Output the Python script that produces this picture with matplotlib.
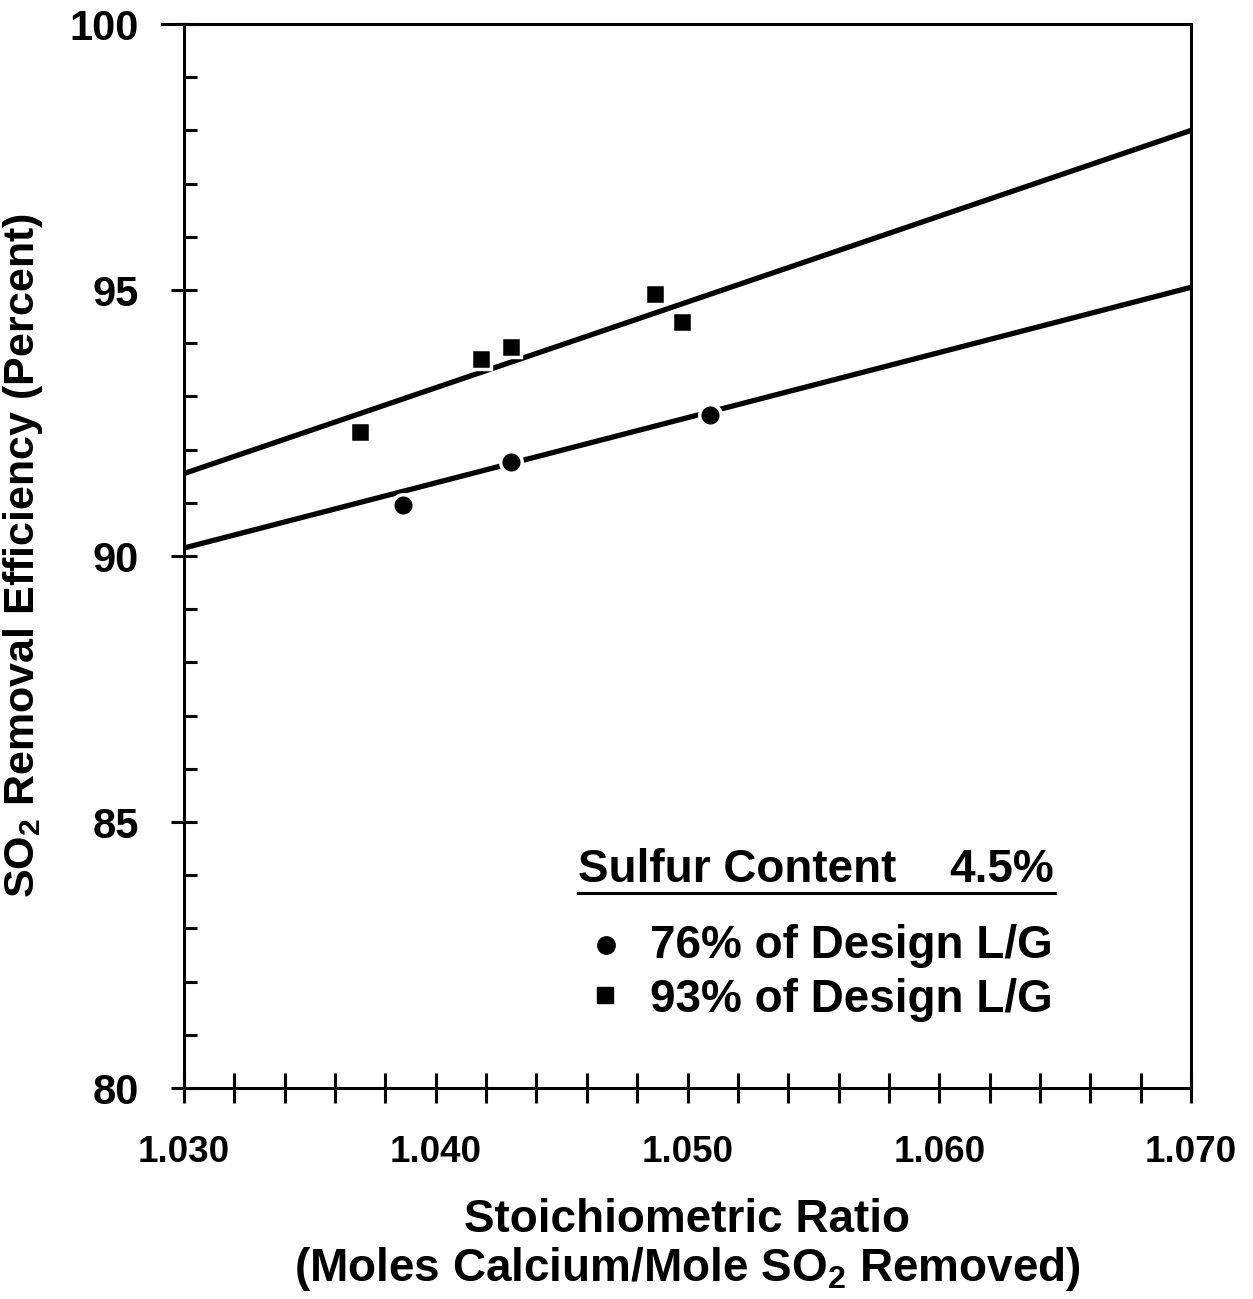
import numpy as np
import matplotlib
matplotlib.use('Agg')
import matplotlib.pyplot as plt
from matplotlib.ticker import MultipleLocator, FormatStrFormatter

plt.rcParams['font.family'] = ['Liberation Sans', 'DejaVu Sans']
plt.rcParams['font.weight'] = 'bold'
plt.rcParams['mathtext.default'] = 'regular'

# measured points: stoichiometric ratio vs SO2 removal efficiency
ratio_76 = [1.0387, 1.0430, 1.0509]
eff_76 = [90.95, 91.77, 92.65]

ratio_93 = [1.0370, 1.0418, 1.0430, 1.0487, 1.0498]
eff_93 = [92.34, 93.70, 93.92, 94.92, 94.39]

# fitted lines, end points at the axis limits
fit_x = [1.030, 1.070]
fit_76 = [90.15, 95.05]
fit_93 = [91.55, 98.00]

legend_title = 'Sulfur Content'
legend_value = '4.5%'
label_76 = '76% of Design L/G'
label_93 = '93% of Design L/G'

W, H = 1253, 1299
fig = plt.figure(figsize=(W / 100, H / 100), dpi=100)
ax = fig.add_axes([184 / W, 1 - 1088 / H, (1191 - 184) / W, (1088 - 24) / H])

ax.plot(fit_x, fit_93, color='black', lw=3.8, solid_capstyle='butt', zorder=2)
ax.plot(fit_x, fit_76, color='black', lw=3.8, solid_capstyle='butt', zorder=2)
ax.plot(ratio_93, eff_93, ls='none', marker='s', ms=14.5, mfc='black',
        mec='white', mew=2.5, zorder=3)
ax.plot(ratio_76, eff_76, ls='none', marker='o', ms=15.5, mfc='black',
        mec='white', mew=2.5, zorder=3)

ax.set_xlim(1.030, 1.070)
ax.set_ylim(80, 100)

for s in ax.spines.values():
    s.set_linewidth(2.2)

ax.xaxis.set_major_locator(MultipleLocator(0.010))
ax.xaxis.set_minor_locator(MultipleLocator(0.002))
ax.xaxis.set_major_formatter(FormatStrFormatter('%.3f'))
ax.yaxis.set_major_locator(MultipleLocator(5))
ax.yaxis.set_minor_locator(MultipleLocator(1))

ax.tick_params(axis='x', which='both', direction='inout', length=21, width=2.2,
               top=False)
ax.tick_params(axis='x', which='major', pad=23, labelsize=26.5)
ax.tick_params(axis='y', which='major', direction='inout', length=19, width=2.2,
               pad=23, labelsize=30, right=False)
ax.tick_params(axis='y', which='minor', direction='in', length=9.5, width=2.2,
               right=False)
for lab in ax.get_xticklabels() + ax.get_yticklabels():
    lab.set_fontweight('bold')

# top border runs a little past the left axis
ax.plot([-0.022, 0], [1, 1], transform=ax.transAxes, color='black', lw=2.2,
        clip_on=False)

ax.set_ylabel('SO$_2$ Removal Efficiency (Percent)', fontsize=31,
              fontweight='bold')
ax.yaxis.set_label_coords(-0.138, 0.5)
ax.set_xlabel('Stoichiometric Ratio\n(Moles Calcium/Mole SO$_2$ Removed)',
              fontsize=33, fontweight='bold', linespacing=1.1)
ax.xaxis.set_label_coords(0.5, -0.103)
ax.xaxis.label.set_va('top')

# legend block
tx = ax.transAxes
ax.text(0.391, 0.1936, legend_title, transform=tx, fontsize=33,
        fontweight='bold', va='baseline', ha='left')
ax.text(0.864, 0.1936, legend_value, transform=tx, fontsize=33,
        fontweight='bold', va='baseline', ha='right')
ax.plot([0.3913, 0.865], [0.183, 0.183], transform=tx, color='black', lw=2.2)

ax.plot([0.419], [0.1344], transform=tx, marker='o', ms=12.5, color='black')
ax.text(0.463, 0.1222, label_76, transform=tx, fontsize=33, fontweight='bold',
        va='baseline', ha='left')
ax.plot([0.418], [0.0874], transform=tx, marker='s', ms=11, color='black')
ax.text(0.463, 0.0714, label_93, transform=tx, fontsize=33, fontweight='bold',
        va='baseline', ha='left')

fig.savefig('out.png', dpi=100, facecolor='white')
